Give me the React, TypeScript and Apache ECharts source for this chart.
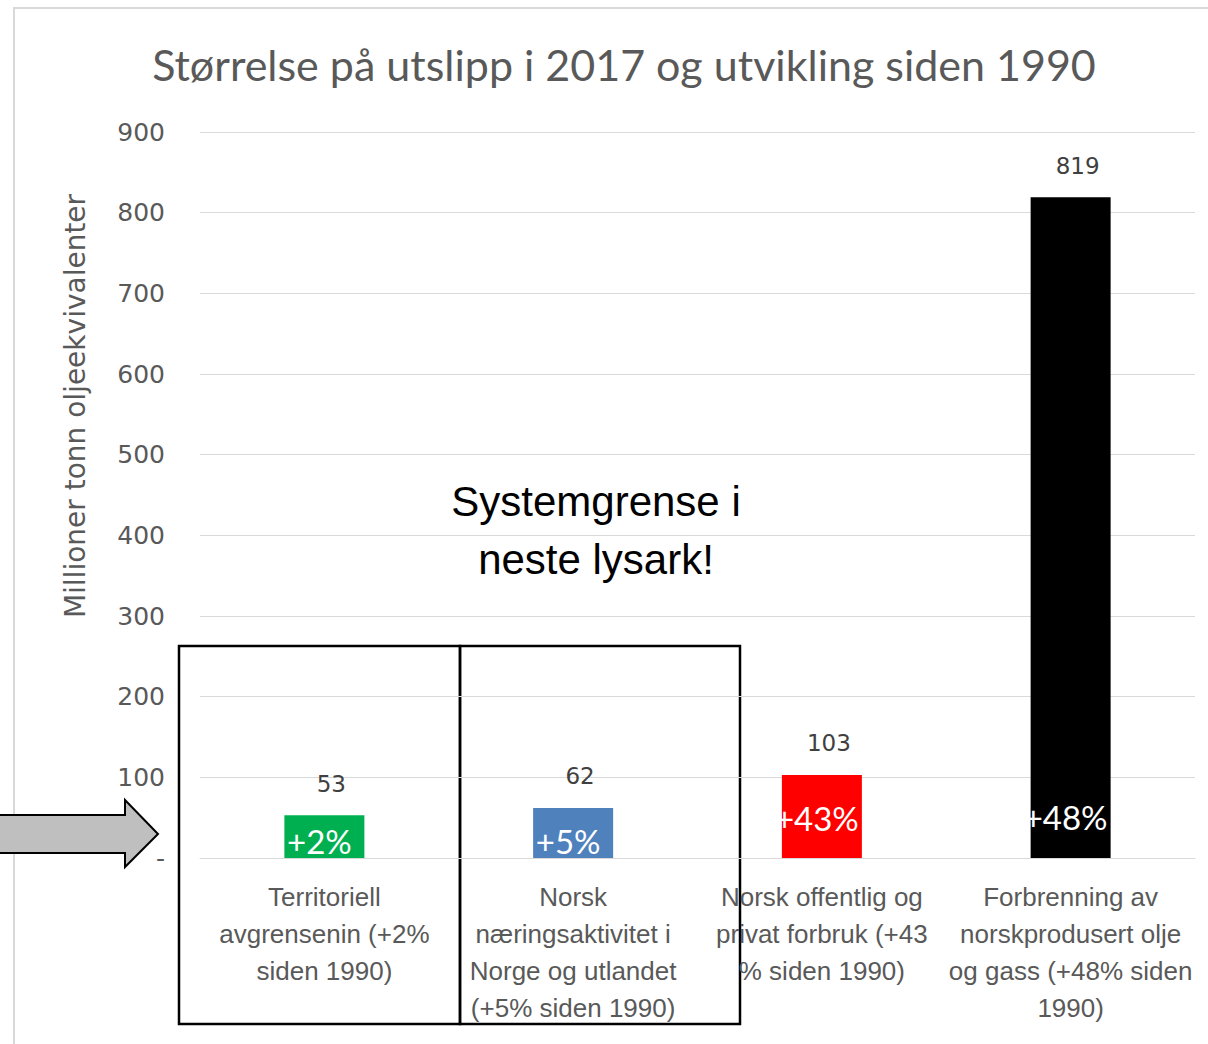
import React, { useEffect, useRef } from "react";
import * as echarts from "echarts";

const categories = [
  "Territoriell\navgrensenin (+2%\nsiden 1990)",
  "Norsk\nnæringsaktivitet i\nNorge og utlandet\n(+5% siden 1990)",
  "Norsk offentlig og\nprivat forbruk (+43\n% siden 1990)",
  "Forbrenning av\nnorskprodusert olje\nog gass (+48% siden\n1990)",
];
const values = [53, 62, 103, 819];
const changes = ["+2%", "+5%", "+43%", "+48%"];
const barColors = ["#00b050", "#4f81bd", "#ff0000", "#000000"];
const changeLabelDistance = [1, 1, 24, 25];
const yTicks = [0, 100, 200, 300, 400, 500, 600, 700, 800, 900];

export default function App() {
  const ref = useRef<HTMLDivElement>(null);
  useEffect(() => {
    document.body.style.margin = "0";
    const chart = echarts.init(ref.current!, null, { renderer: "svg" });
    const grey = "#595959";
    chart.setOption({
      animation: false,
      backgroundColor: "#ffffff",
      title: {
        text: "Størrelse på utslipp i 2017 og utvikling siden 1990",
        left: 619,
        textAlign: "center",
        top: 38,
        textStyle: {
          fontFamily: "Lato",
          fontSize: 43,
          fontWeight: "normal",
          color: grey,
        },
      },
      grid: { left: 200, right: 13, top: 132, bottom: 186 },
      xAxis: {
        type: "category",
        data: categories,
        axisLine: { lineStyle: { color: "#d9d9d9" } },
        axisTick: { show: false },
        axisLabel: {
          interval: 0,
          margin: 20,
          fontFamily: "Liberation Sans",
          fontSize: 26,
          lineHeight: 37,
          color: grey,
          align: "center",
        },
      },
      yAxis: {
        type: "value",
        min: yTicks[0],
        max: yTicks[yTicks.length - 1],
        interval: 100,
        axisLine: { show: false },
        axisTick: { show: false },
        splitLine: { lineStyle: { color: "#d9d9d9", width: 1 } },
        axisLabel: {
          margin: 35,
          fontFamily: "DejaVu Sans",
          fontSize: 25,
          color: grey,
          formatter: (v: number) => (v === 0 ? "-" : String(v)),
        },
      },
      series: [
        {
          type: "bar",
          barWidth: 80,
          data: values.map((v, i) => ({ value: v, itemStyle: { color: barColors[i] } })),
          label: {
            show: true,
            position: "top",
            distance: 20,
            offset: [7, 0],
            fontFamily: "DejaVu Sans",
            fontSize: 23,
            color: "#404040",
          },
        },
        {
          type: "bar",
          barWidth: 80,
          barGap: "-100%",
          silent: true,
          data: values.map((v, i) => ({
            value: v,
            label: { distance: changeLabelDistance[i] },
          })),
          itemStyle: { color: "rgba(0,0,0,0)" },
          label: {
            show: true,
            position: "insideBottom",
            offset: [-5, 0],
            fontFamily: "Lato",
            fontSize: 33,
            color: "#ffffff",
            formatter: (p: any) => changes[p.dataIndex],
          },
        },
      ],
      graphic: [
        {
          type: "rect",
          shape: { x: 14, y: 8, width: 1300, height: 1100 },
          style: { fill: "none", stroke: "#d9d9d9", lineWidth: 2 },
          silent: true,
        },
        {
          type: "text",
          x: 75,
          y: 406,
          rotation: Math.PI / 2,
          style: {
            text: "Millioner tonn oljeekvivalenter",
            fontFamily: "DejaVu Sans",
            fontSize: 28,
            fill: grey,
            align: "center",
            verticalAlign: "middle",
          },
        },
        {
          type: "rect",
          shape: { x: 179, y: 646, width: 281, height: 378 },
          style: { fill: "none", stroke: "#000000", lineWidth: 2.5 },
        },
        {
          type: "rect",
          shape: { x: 460, y: 646, width: 280, height: 378 },
          style: { fill: "none", stroke: "#000000", lineWidth: 2.5 },
        },
        {
          type: "text",
          x: 596,
          y: 530,
          style: {
            text: "Systemgrense i\nneste lysark!",
            fontFamily: "Liberation Sans",
            fontSize: 42,
            lineHeight: 58,
            fill: "#000000",
            align: "center",
            verticalAlign: "middle",
          },
        },
        {
          type: "polygon",
          shape: {
            points: [
              [-5, 815],
              [125, 815],
              [125, 800],
              [158, 834],
              [125, 867],
              [125, 853],
              [-5, 853],
            ],
          },
          style: { fill: "#bfbfbf", stroke: "#000000", lineWidth: 2 },
        },
      ],
    });
    return () => chart.dispose();
  }, []);
  return <div ref={ref} style={{ width: 1208, height: 1044 }} />;
}
